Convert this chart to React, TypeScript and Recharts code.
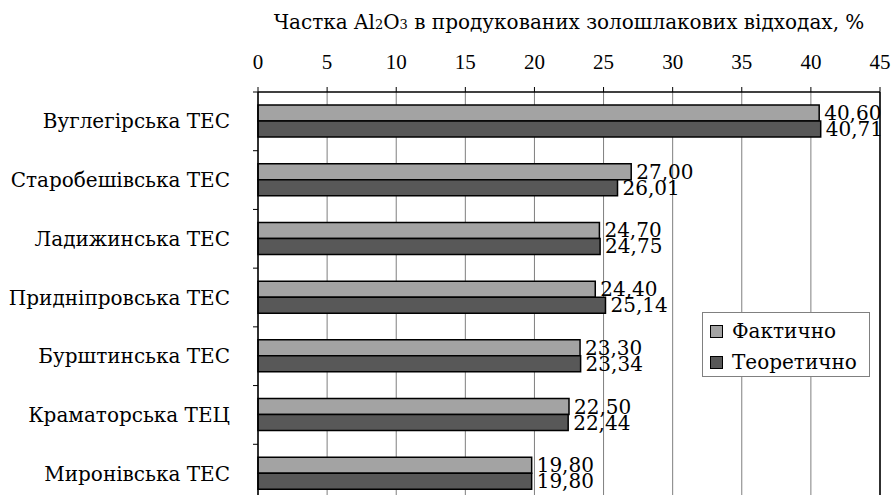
import React from 'react';
import {
  BarChart, Bar, XAxis, YAxis, CartesianGrid, LabelList, Legend, ReferenceLine,
} from 'recharts';

const categories = [
  'Вуглегірська ТЕС',
  'Старобешівська ТЕС',
  'Ладижинська ТЕС',
  'Придніпровська ТЕС',
  'Бурштинська ТЕС',
  'Краматорська ТЕЦ',
  'Миронівська ТЕС',
];
const actual = [40.6, 27.0, 24.7, 24.4, 23.3, 22.5, 19.8];
const theoretical = [40.71, 26.01, 24.75, 25.14, 23.34, 22.44, 19.8];
const xTicks = [0, 5, 10, 15, 20, 25, 30, 35, 40, 45];
const seriesNames = ['Фактично', 'Теоретично'];

const data = categories.map((name, i) => ({
  name,
  actual: actual[i],
  theoretical: theoretical[i],
}));

const W = 892;
const H = 503;
const TOP = 92;
const LEFT = 258;
const RIGHT_M = 12;
const BAND = (H - TOP) / categories.length;
const FONT = '"DejaVu Serif", serif';
const VFONT = '"DejaVu Serif", serif';
const LIGHT = '#a3a3a3';
const DARK = '#585858';

const fmt = (v: any) => Number(v).toFixed(2).replace('.', ',');

function CatTick(props: any) {
  const { x, y, payload } = props;
  return (
    <g>
      <line x1={x - 5} x2={x} y1={y - BAND / 2} y2={y - BAND / 2} stroke="#000" strokeWidth={1} />
      <text x={x - 28} y={y} dy={7} textAnchor="end" fontFamily={FONT} fontSize={20} fill="#000">
        {payload.value}
      </text>
    </g>
  );
}

function ValueLabel(props: any) {
  const { x, y, width, height, value } = props;
  return (
    <text x={x + width + 5} y={y + height / 2} dy={7} fontFamily={VFONT} fontSize={20} fill="#000">
      {fmt(value)}
    </text>
  );
}

function LegendBox() {
  const items = [
    { name: seriesNames[0], color: LIGHT },
    { name: seriesNames[1], color: DARK },
  ];
  return (
    <div
      style={{
        border: '1px solid #808080',
        background: '#fff',
        width: 168,
        height: 65,
        boxSizing: 'border-box',
        padding: '5px 0 0 7px',
        fontFamily: FONT,
        fontSize: 20,
        color: '#000',
        whiteSpace: 'nowrap',
      }}
    >
      {items.map((it) => (
        <div key={it.name} style={{ display: 'flex', alignItems: 'center', height: 26, marginBottom: 5 }}>
          <span
            style={{
              display: 'inline-block',
              width: 11,
              height: 11,
              background: it.color,
              border: '1px solid #000',
              marginRight: 9,
            }}
          />
          <span>{it.name}</span>
        </div>
      ))}
    </div>
  );
}

export default function App() {
  return (
    <div style={{ position: 'absolute', left: 0, top: 0, width: W, height: 495, overflow: 'hidden', background: '#fff' }}>
      <div
        style={{
          position: 'absolute',
          left: LEFT - 20,
          width: W - LEFT - RIGHT_M + 40,
          top: 10,
          textAlign: 'center',
          fontFamily: FONT,
          fontSize: 20,
          lineHeight: '24px',
          color: '#000',
          whiteSpace: 'nowrap',
        }}
      >
        Частка Al<span style={{ fontSize: 13 }}>2</span>O<span style={{ fontSize: 13 }}>3</span> в продукованих
        золошлакових відходах, %
      </div>
      <BarChart
        width={W}
        height={H}
        data={data}
        layout="vertical"
        margin={{ top: 0, right: RIGHT_M, bottom: 0, left: 0 }}
        barGap={0}
        barSize={16}
      >
        <CartesianGrid horizontal={false} stroke="#7f7f7f" strokeWidth={1} />
        <XAxis
          type="number"
          orientation="top"
          domain={[0, 45]}
          ticks={xTicks}
          height={TOP}
          tickSize={5}
          tickMargin={18}
          axisLine={{ stroke: '#000', strokeWidth: 1.5 }}
          tickLine={{ stroke: '#000' }}
          tick={{ fontFamily: '"Liberation Serif", serif', fontSize: 21, fill: '#000' }}
          interval={0}
        />
        <YAxis
          type="category"
          dataKey="name"
          width={LEFT}
          tickSize={0}
          tickMargin={0}
          axisLine={{ stroke: '#000', strokeWidth: 1.5 }}
          tickLine={false}
          tick={<CatTick />}
          interval={0}
        />
        <ReferenceLine x={45} stroke="#000" strokeWidth={1.5} />
        <Legend
          layout="vertical"
          align="center"
          verticalAlign="middle"
          content={() => <LegendBox />}
          wrapperStyle={{ left: 702, top: 312, width: 168, height: 65 }}
        />
        <Bar dataKey="actual" name={seriesNames[0]} fill={LIGHT} stroke="#000" strokeWidth={1.5} isAnimationActive={false}>
          <LabelList dataKey="actual" content={<ValueLabel />} />
        </Bar>
        <Bar dataKey="theoretical" name={seriesNames[1]} fill={DARK} stroke="#000" strokeWidth={1.5} isAnimationActive={false}>
          <LabelList dataKey="theoretical" content={<ValueLabel />} />
        </Bar>
      </BarChart>
    </div>
  );
}
